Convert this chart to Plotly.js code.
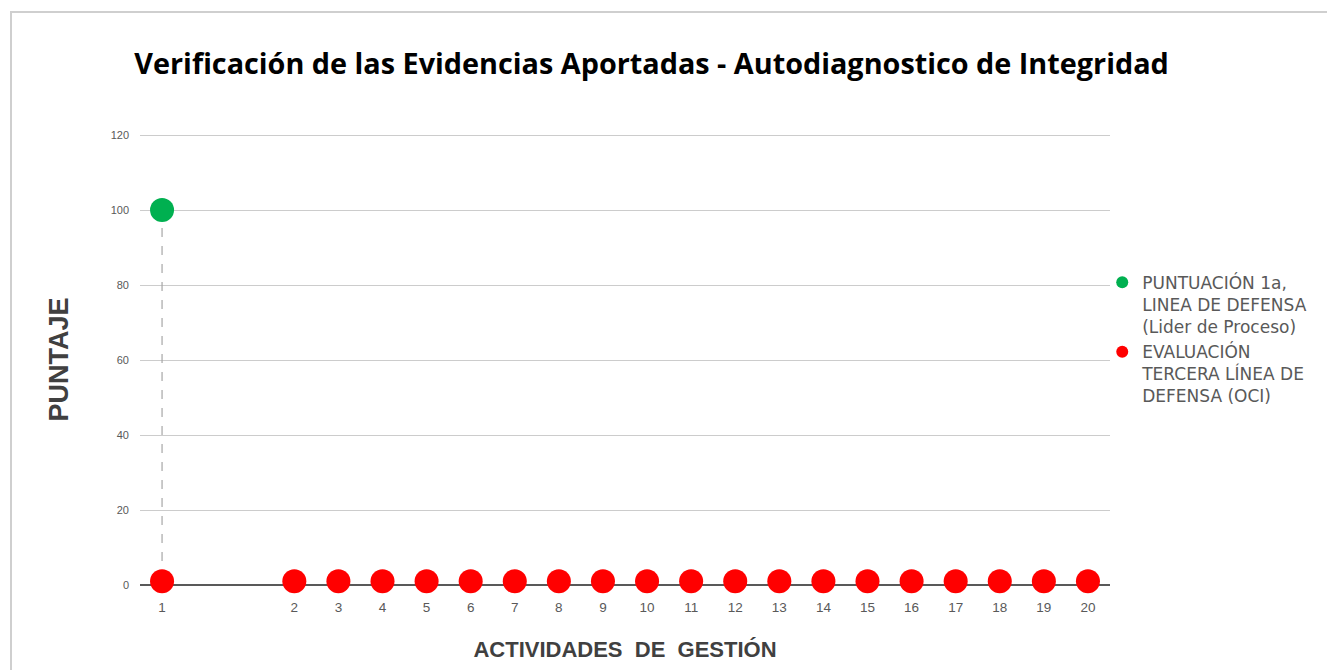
<!DOCTYPE html>
<html>
<head>
<meta charset="utf-8">
<script src="https://cdn.plot.ly/plotly-3.0.1.min.js"></script>
<style>
html,body{margin:0;padding:0;background:#fff;}
#chart{width:1327px;height:670px;position:relative;}
#frame{position:absolute;left:10px;top:11px;width:1330px;height:670px;border-top:2px solid #cfcfcf;border-left:2px solid #cfcfcf;pointer-events:none;}
</style>
</head>
<body>
<div id="chart"></div>
<div id="frame"></div>
<script>
// Category slots on the x axis (two empty slots after "1")
var categories = ["1", " ", "  ", "2", "3", "4", "5", "6", "7", "8", "9", "10", "11", "12", "13", "14", "15", "16", "17", "18", "19", "20"];
// Activities with data
var activities = ["1", "2", "3", "4", "5", "6", "7", "8", "9", "10", "11", "12", "13", "14", "15", "16", "17", "18", "19", "20"];
// Third line of defense evaluation (OCI)
var evaluacionOCI = [1, 1, 1, 1, 1, 1, 1, 1, 1, 1, 1, 1, 1, 1, 1, 1, 1, 1, 1, 1];
// First line of defense score (process leader)
var puntuacionActs = ["1"];
var puntuacion1a = [100];
var yTicks = [0, 20, 40, 60, 80, 100, 120];

var traces = [
  {
    x: [puntuacionActs[0], puntuacionActs[0]],
    y: [puntuacion1a[0], evaluacionOCI[0]],
    mode: "lines",
    line: {color: "#a6a6a6", width: 1.2, dash: "dash"},
    showlegend: false,
    hoverinfo: "skip"
  },
  {
    x: puntuacionActs,
    y: puntuacion1a,
    mode: "markers",
    name: "PUNTUACIÓN 1a,<br>LINEA DE DEFENSA<br>(Lider de Proceso)",
    marker: {color: "#00b050", size: 24}
  },
  {
    x: activities,
    y: evaluacionOCI,
    mode: "markers",
    name: "EVALUACIÓN<br>TERCERA LÍNEA DE<br>DEFENSA (OCI)",
    marker: {color: "#ff0000", size: 24},
    cliponaxis: false
  }
];

var layout = {
  width: 1327,
  height: 670,
  margin: {l: 140, r: 217, t: 134, b: 85},
  paper_bgcolor: "#ffffff",
  plot_bgcolor: "#ffffff",
  title: {
    text: "<b>Verificación de las Evidencias Aportadas - Autodiagnostico de Integridad</b>",
    font: {family: "Open Sans, sans-serif", size: 28.8, color: "#000000"},
    x: 0.491, xanchor: "center", xref: "container",
    y: 0.905, yanchor: "middle", yref: "container"
  },
  xaxis: {
    type: "category",
    categoryorder: "array",
    categoryarray: categories,
    range: [-0.5, categories.length - 0.5],
    showgrid: false,
    zeroline: false,
    showline: false,
    ticks: "",
    ticklabelstandoff: 12,
    tickfont: {family: "Liberation Sans, Arial, sans-serif", size: 13.5, color: "#595959"},
    title: {
      text: "<b>ACTIVIDADES  DE  GESTIÓN</b>",
      font: {family: "Liberation Sans, Arial, sans-serif", size: 22, color: "#404040"},
      standoff: 28
    },
    fixedrange: true
  },
  yaxis: {
    range: [0, 120.3],
    tickvals: yTicks,
    ticktext: yTicks.map(String),
    showgrid: true,
    gridcolor: "#cccccc",
    gridwidth: 1,
    zeroline: true,
    zerolinecolor: "#595959",
    zerolinewidth: 2,
    showline: false,
    ticks: "",
    ticklabelstandoff: 10,
    tickfont: {family: "Liberation Sans, Arial, sans-serif", size: 11, color: "#595959"},
    title: {
      text: "<b>PUNTAJE</b>",
      font: {family: "Liberation Sans, Arial, sans-serif", size: 27, color: "#404040"},
      standoff: 34
    },
    fixedrange: true
  },
  legend: {
    x: 0.992, xanchor: "left",
    y: 0.71, yanchor: "top",
    valign: "top",
    font: {family: "DejaVu Sans, Verdana, sans-serif", size: 17, color: "#595959"},
    itemwidth: 30,
    itemsizing: "constant",
    tracegroupgap: 9,
    bgcolor: "rgba(0,0,0,0)"
  },
  showlegend: true,
  hovermode: false
};

Plotly.newPlot("chart", traces, layout, {displayModeBar: false, staticPlot: true});
</script>
</body>
</html>
